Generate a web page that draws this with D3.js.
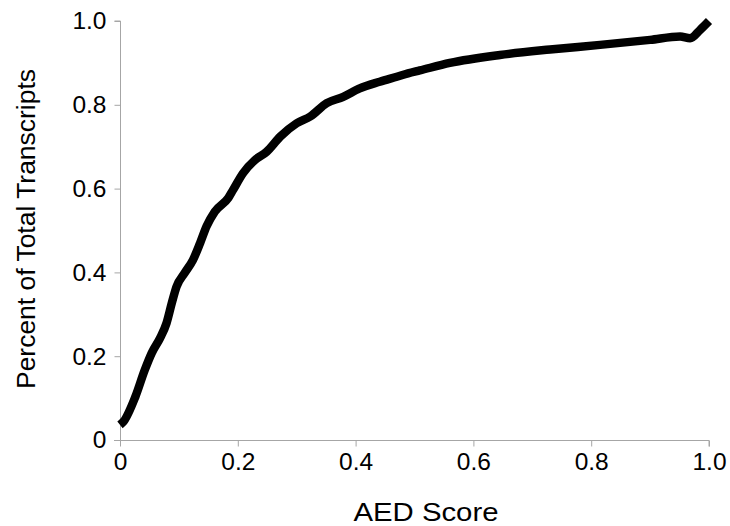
<!DOCTYPE html>
<html>
<head>
<meta charset="utf-8">
<script src="https://cdn.jsdelivr.net/npm/d3@7"></script>
<style>
  body { margin: 0; background: #fff; }
  text { font-family: "Liberation Sans", Arial, sans-serif; fill: #000; }
</style>
</head>
<body>
<script>
// AED score vs cumulative fraction of transcripts
const aedScore = [0, 0.006, 0.026, 0.042, 0.054, 0.068, 0.079, 0.088, 0.096, 0.110,
  0.124, 0.136, 0.147, 0.161, 0.184, 0.192, 0.209, 0.229, 0.249, 0.272, 0.300,
  0.323, 0.351, 0.379, 0.407, 0.441, 0.470, 0.489, 0.509, 0.560, 0.645, 0.730,
  0.815, 0.900, 0.951, 0.968, 0.985, 1.0];
const pctTranscripts = [0.036, 0.044, 0.103, 0.167, 0.208, 0.243, 0.279, 0.327, 0.366, 0.399,
  0.430, 0.470, 0.510, 0.545, 0.578, 0.597, 0.637, 0.668, 0.688, 0.724, 0.756,
  0.772, 0.804, 0.819, 0.839, 0.855, 0.867, 0.875, 0.882, 0.900, 0.919, 0.932,
  0.943, 0.955, 0.963, 0.959, 0.979, 1.0];
const xTicks = [0, 0.2, 0.4, 0.6, 0.8, 1.0];
const yTicks = [0, 0.2, 0.4, 0.6, 0.8, 1.0];
const xTitle = 'AED Score';
const yTitle = 'Percent of Total Transcripts';

const width = 730;
const height = 526;
const margin = { top: 21, right: 21, bottom: 86, left: 120 };

const svg = d3.select('body')
  .append('svg')
  .attr('width', width)
  .attr('height', height);

const x = d3.scaleLinear().domain([0, 1]).range([margin.left, width - margin.right]);
const y = d3.scaleLinear().domain([0, 1]).range([height - margin.bottom, margin.top]);

const fmt = d => (d === 0 ? '0' : d3.format('.1f')(d));
const axisColor = '#a6a6a6';

// x axis
const gx = svg.append('g')
  .attr('transform', `translate(0,${y(0) + 0.5})`)
  .call(d3.axisBottom(x).tickValues(xTicks).tickFormat(fmt).tickSize(6).tickPadding(6).tickSizeOuter(0));

// y axis
const gy = svg.append('g')
  .attr('transform', `translate(${x(0) + 0.5},0)`)
  .call(d3.axisLeft(y).tickValues(yTicks).tickFormat(fmt).tickSize(6).tickPadding(8).tickSizeOuter(0));

[gx, gy].forEach(g => {
  g.select('.domain').attr('stroke', axisColor);
  g.selectAll('.tick line').attr('stroke', axisColor);
  g.selectAll('.tick text')
    .style('font-family', '"Liberation Sans", Arial, sans-serif')
    .style('font-size', '24.5px')
    .attr('fill', '#000');
});
gx.select('.domain').attr('d', `M${x(0) - 6},0H${x(1)}V6`);
gy.select('.domain').attr('d', `M-6,${y(1)}H0V${y(0)}`);

// the curve
const line = d3.line()
  .x((d, i) => x(aedScore[i]))
  .y(d => y(d))
  .curve(d3.curveMonotoneX);

svg.append('path')
  .datum(pctTranscripts)
  .attr('fill', 'none')
  .attr('stroke', '#000')
  .attr('stroke-width', 8.5)
  .attr('stroke-linejoin', 'round')
  .attr('stroke-linecap', 'butt')
  .attr('d', line);

// axis titles
svg.append('text')
  .attr('x', 426)
  .attr('y', 521)
  .attr('text-anchor', 'middle')
  .attr('textLength', 145)
  .attr('lengthAdjust', 'spacingAndGlyphs')
  .style('font-size', '25px')
  .text(xTitle);

svg.append('text')
  .attr('transform', `translate(35,229) rotate(-90)`)
  .attr('text-anchor', 'middle')
  .attr('textLength', 320)
  .attr('lengthAdjust', 'spacingAndGlyphs')
  .style('font-size', '25px')
  .text(yTitle);
</script>
</body>
</html>
